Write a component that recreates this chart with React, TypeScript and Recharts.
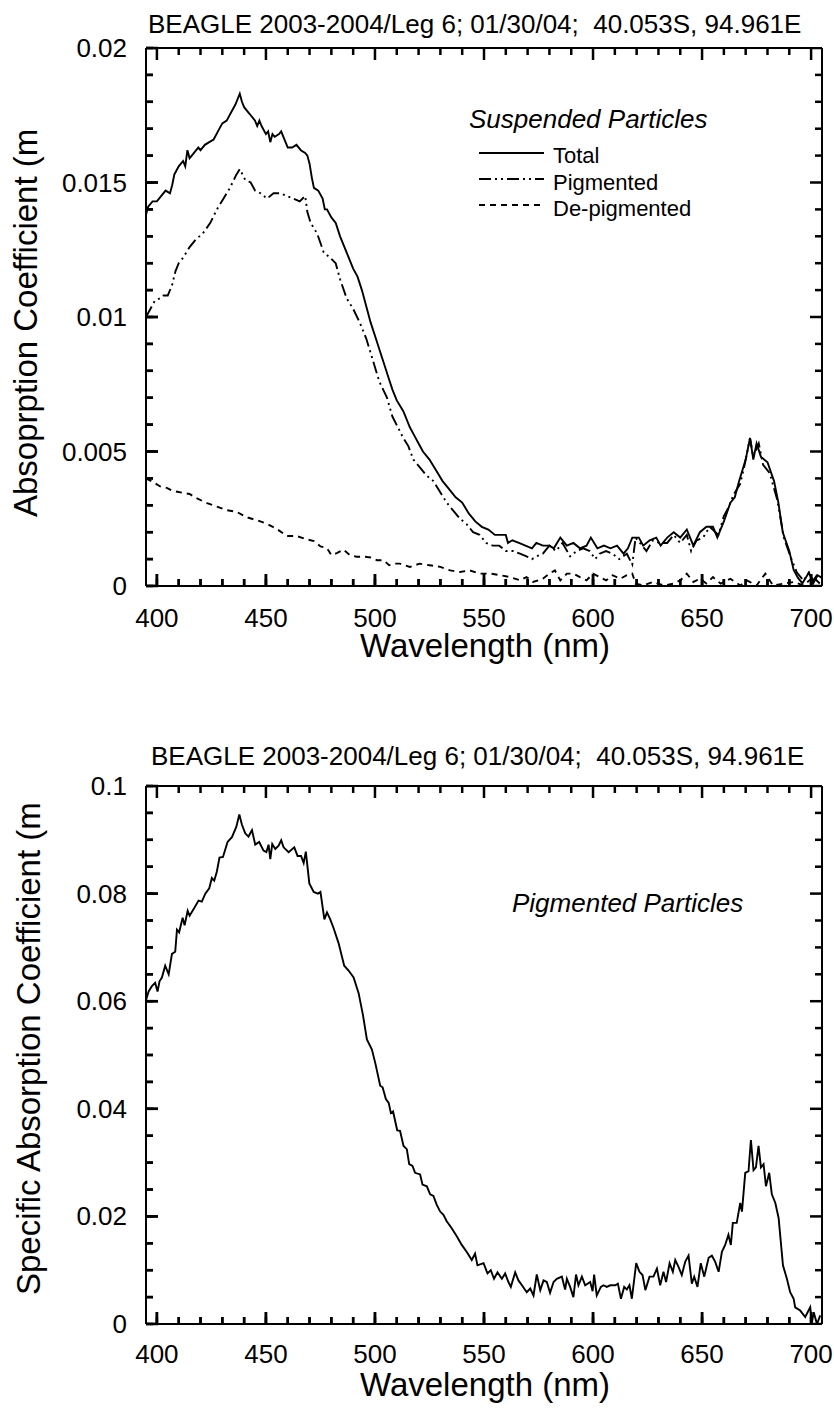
import { ComposedChart, Line, Scatter, XAxis, YAxis, ReferenceLine } from 'recharts'

const FONT = '"Liberation Sans", Arial, Helvetica, sans-serif'
const INK = '#000'

// ---- axis ticks ----
const wavelengthTicks = [
  400, 410, 420, 430, 440, 450, 460, 470, 480, 490, 500, 510, 520, 530, 540, 550, 560, 570, 580,
  590, 600, 610, 620, 630, 640, 650, 660, 670, 680, 690, 700,
]
const suspendedTicks = [
  0, 0.001, 0.002, 0.003, 0.004, 0.005, 0.006, 0.007, 0.008, 0.009, 0.01, 0.011, 0.012, 0.013,
  0.014, 0.015, 0.016, 0.017, 0.018, 0.019, 0.02,
]
const specificTicks = [
  0, 0.005, 0.01, 0.015, 0.02, 0.025, 0.03, 0.035, 0.04, 0.045, 0.05, 0.055, 0.06, 0.065, 0.07,
  0.075, 0.08, 0.085, 0.09, 0.095, 0.1,
]
const wavelengthDomain: [number, number] = [395, 705]
const suspendedDomain: [number, number] = [0, 0.02]
const specificDomain: [number, number] = [0, 0.1]

// ---- labels ----
const topTitle = 'BEAGLE 2003-2004/Leg 6; 01/30/04;  40.053S, 94.961E'
const bottomTitle = 'BEAGLE 2003-2004/Leg 6; 01/30/04;  40.053S, 94.961E'
const xTitle = 'Wavelength (nm)'
const topYTitle = 'Absoprption Coefficient (m'
const bottomYTitle = 'Specific Absorption Coefficient (m'
const topLegendTitle = 'Suspended Particles'
const topLegendNames = ['Total', 'Pigmented', 'De-pigmented']
const bottomLegendTitle = 'Pigmented Particles'

// ---- total particulate absorption (m^-1) ----
const totalNm = [
  395, 396, 398, 400, 402, 404, 406, 407, 408, 410, 412, 413, 414, 415, 416, 418, 419, 420, 422,
  424, 426, 428, 430, 432, 434, 436, 438, 439, 440, 442, 443, 444, 445, 446, 447, 448, 450, 451,
  452, 453, 454, 456, 457, 458, 460, 462, 464, 466, 468, 469, 470, 471, 472, 474, 476, 477, 478,
  480, 482, 484, 486, 488, 490, 492, 494, 496, 498, 500, 502, 504, 506, 508, 510, 513, 516, 518,
  520, 522, 525, 528, 531, 534, 537, 540, 543, 546, 549, 552, 555, 558, 560, 561, 563, 566, 569,
  572, 574, 577, 580, 582, 585, 588, 591, 594, 597, 599, 602, 605, 608, 611, 614, 616, 618, 621,
  623, 626, 629, 631, 634, 637, 640, 643, 646, 649, 652, 655, 657, 660, 663, 665, 667, 670, 672,
  673.5, 675, 677, 680, 683, 685, 687, 690, 692, 694, 696, 699, 701, 703, 705,
]
const totalAbs = [
  0.0138, 0.0141, 0.0143, 0.0143, 0.0145, 0.0147, 0.0146, 0.0149, 0.0153, 0.0156, 0.0158, 0.0156,
  0.0162, 0.0159, 0.016, 0.0162, 0.0163, 0.0162, 0.0164, 0.0165, 0.0166, 0.0169, 0.0172, 0.0173,
  0.0176, 0.0179, 0.0183, 0.018, 0.0178, 0.0176, 0.0175, 0.0174, 0.0173, 0.0171, 0.0173, 0.0171,
  0.0168, 0.0169, 0.0165, 0.0168, 0.0167, 0.0168, 0.0169, 0.0167, 0.0163, 0.0163, 0.0164, 0.0162,
  0.0161, 0.016, 0.0157, 0.0152, 0.0148, 0.0147, 0.0144, 0.014, 0.014, 0.0137, 0.0135, 0.013,
  0.0126, 0.0122, 0.0118, 0.0115, 0.011, 0.0104, 0.0098, 0.0093, 0.0088, 0.0083, 0.0078, 0.0073,
  0.0069, 0.0065, 0.0059, 0.0056, 0.0053, 0.005, 0.0047, 0.0043, 0.0039, 0.0036, 0.0033, 0.0031,
  0.0027, 0.0024, 0.0022, 0.0021, 0.0019, 0.0019, 0.0019, 0.0016, 0.0017, 0.0016, 0.0015, 0.0014,
  0.0016, 0.0015, 0.0015, 0.0014, 0.0018, 0.0015, 0.0016, 0.0014, 0.0015, 0.0018, 0.0014, 0.0015,
  0.0014, 0.0015, 0.0012, 0.0014, 0.0018, 0.0018, 0.0015, 0.0017, 0.0018, 0.0015, 0.0018, 0.002,
  0.0018, 0.0021, 0.0015, 0.002, 0.0022, 0.0022, 0.0018, 0.0024, 0.0031, 0.0033, 0.0039, 0.0047,
  0.0055, 0.0047, 0.0053, 0.0048, 0.0046, 0.0039, 0.0031, 0.002, 0.0013, 0.0006, 0.0003, 0.0001,
  0.0005, 0.0001, 0.0004, 0.0003,
]

// ---- pigmented (phytoplankton) absorption ----
const pigNm = [
  395, 397, 399, 401.5, 403, 405, 407, 408.5, 410, 412, 415, 418, 421, 424.5, 427.5, 430.5, 433.5,
  436.5, 438, 440.5, 443, 445, 447.5, 450.5, 453.5, 456.5, 459.5, 462.5, 465.5, 468, 469, 470.5,
  473.5, 476.5, 479.5, 482, 484, 487, 490, 493, 496, 499, 502, 505.5, 508, 510.5, 513, 515.3,
  517.6, 520.7, 523.7, 526.8, 529.8, 532.9, 535.9, 539, 542, 545, 548, 551, 554, 557, 560, 563.5,
  566.5, 569.5, 572, 574, 577, 580, 583, 586, 589.5, 592.5, 595.5, 598.5, 601, 603, 606, 609, 612,
  615.5, 618, 619.5, 621.5, 624.5, 627.5, 630.5, 634, 637, 640, 643, 645, 647.5, 650.5, 653.5,
  657.5, 660, 662, 664.5, 667.5, 669.5, 672, 673.5, 676, 678, 681, 684.5, 687.5, 690.5, 693.5,
  696.5, 699, 701, 703.5,
]
const pigAbs = [
  0.01, 0.0103, 0.0106, 0.0107, 0.0108, 0.0108, 0.0112, 0.0117, 0.012, 0.0122, 0.0126, 0.0129,
  0.0131, 0.0135, 0.014, 0.0144, 0.0148, 0.0153, 0.0155, 0.0151, 0.015, 0.0147, 0.0146, 0.0144,
  0.0146, 0.0146, 0.0145, 0.0144, 0.0143, 0.0145, 0.0139, 0.0135, 0.0131, 0.0124, 0.0122, 0.012,
  0.0114, 0.0107, 0.0103, 0.0098, 0.0092, 0.0084, 0.0076, 0.007, 0.0063, 0.0059, 0.0055, 0.0052,
  0.0047, 0.0044, 0.0041, 0.0039, 0.0035, 0.0031, 0.0028, 0.0025, 0.0023, 0.002, 0.0019, 0.0016,
  0.0015, 0.0015, 0.0013, 0.0013, 0.0012, 0.0011, 0.001, 0.0011, 0.0012, 0.0015, 0.0013, 0.0016,
  0.0011, 0.0013, 0.0014, 0.0013, 0.001, 0.0012, 0.0013, 0.0012, 0.001, 0.0012, 0.0008, 0.0018,
  0.0016, 0.0013, 0.0017, 0.0016, 0.0016, 0.0019, 0.0016, 0.0019, 0.0013, 0.0017, 0.0018, 0.0022,
  0.0019, 0.0026, 0.0029, 0.0034, 0.0038, 0.0045, 0.0055, 0.0048, 0.0053, 0.0045, 0.0042, 0.0032,
  0.0018, 0.0011, 0.0005, 0.0002, 0.0005, 0.0002, 0.0005,
]

// ---- de-pigmented (detrital) absorption ----
const detNm = [
  395, 398.5, 401.5, 404.5, 407.5, 412, 415, 418, 423, 427.5, 432, 436.5, 441, 446, 450.5, 455,
  459.5, 464, 469, 472, 475, 478, 480, 482.5, 485.5, 488.5, 491.5, 495, 498, 501, 504, 506.5, 509,
  511.5, 516, 520.5, 525, 530, 534.5, 539, 543.5, 548, 553, 557.5, 562, 566.5, 569.5, 572.5, 577,
  580, 582.5, 585, 588, 591, 594, 597, 600, 603, 606, 609, 612.5, 615.5, 618, 619.5, 623, 627.5,
  632.5, 637, 640, 643, 646, 649, 652, 655, 658.5, 663, 667.5, 670.5, 675, 679, 682.5, 687.5, 692,
  696.5, 701, 704,
]
const detAbs = [
  0.004, 0.00385, 0.0037, 0.00365, 0.00353, 0.00346, 0.00342, 0.00327, 0.00308, 0.00295, 0.00282,
  0.00276, 0.00256, 0.00244, 0.00231, 0.00212, 0.00186, 0.00186, 0.00173, 0.00167, 0.00147,
  0.00141, 0.00115, 0.00122, 0.00135, 0.00115, 0.00109, 0.00109, 0.00106, 0.00096, 0.00096,
  0.00077, 0.00083, 0.00083, 0.00071, 0.00083, 0.00077, 0.00071, 0.00058, 0.00052, 0.00058,
  0.00046, 0.00046, 0.0004, 0.00033, 0.00021, 0.00033, 0.00015, 0.00027, 0.00046, 0.00058,
  0.00021, 0.00046, 0.00046, 0.00033, 0.00021, 0.00046, 0.00033, 0.00021, 0.0004, 0.00027, 0.0004,
  0.00046, 0.00009, 0.00002, 0.00015, 0.00002, 0.00009, 0.00021, 0.00046, 0.00015, 0.00027,
  0.00009, 0.00033, 0.00009, 0.00027, 0.00002, 0.00021, 0.00002, 0.00046, 0.00002, 0.00009,
  0.00015, 0.00002, 0.00033, 0.00009,
]

// ---- chlorophyll-specific absorption of pigmented particles ----
const specNm = [
  395, 396.2, 397.7, 399.2, 400.3, 401.2, 402.3, 403.8, 405.4, 406.9, 408.4, 409.2, 410.2, 411.8,
  412.7, 414.1, 415, 416.8, 419.1, 420.6, 422.2, 424, 425.2, 426.3, 427.5, 428.7, 430.3, 432.4,
  434.4, 436.4, 437.8, 439, 440.5, 442, 443.6, 445.1, 446.9, 448.9, 450.2, 451.2, 452, 452.9,
  454.3, 455.8, 457, 458.1, 460.4, 463, 464.5, 466.1, 467.3, 468.3, 469.9, 471.9, 473.9, 475,
  476.8, 478, 479.5, 481, 483.3, 485.9, 487.9, 490.2, 492.5, 494.5, 496.3, 498.6, 500.2, 502.4,
  503.5, 505, 506.3, 507.3, 508.3, 510.2, 511.5, 513.1, 514.6, 515.7, 517.2, 518.4, 520.7, 521.8,
  523.8, 525.3, 526.8, 528.3, 529.9, 531.4, 532.9, 535.2, 537.5, 539.8, 542.1, 544.4, 545.9, 547,
  549.8, 551.6, 553.1, 554.6, 556.2, 558.2, 559.7, 561.2, 562.3, 564.3, 565.8, 567.4, 569.6, 571.2,
  572.7, 574.2, 575.8, 577.3, 578.8, 580.3, 581.9, 583.4, 585.7, 587.2, 588, 589.5, 591, 592.2,
  593.3, 594.9, 596.4, 598.7, 599.8, 600.5, 601.7, 603.6, 604.8, 606.3, 607.9, 610.2, 611.4, 612.8,
  614.3, 615.5, 616.7, 617.8, 619.8, 621.3, 622.7, 624, 625.9, 627.7, 629.3, 630.8, 632.3, 633.5,
  635.1, 636.6, 637.7, 639.2, 640.7, 642.3, 643.8, 645.3, 646.4, 647.9, 649.4, 651, 653, 654.5,
  656, 657.6, 659.1, 660.6, 662.1, 663.2, 664.1, 665.9, 667.5, 668.3, 669.8, 671.3, 672.4, 673.6,
  674.7, 675.9, 677, 678.2, 679.3, 680.8, 682, 683.6, 685.1, 687.1, 688.9, 690.4, 692, 692.7, 695,
  697.3, 699.6, 700.4, 701.2, 702.7, 704.2,
]
const specAbs = [
  0.0602, 0.0618, 0.0628, 0.0634, 0.0618, 0.0637, 0.0644, 0.0666, 0.065, 0.0688, 0.0692, 0.0733,
  0.0728, 0.0755, 0.0741, 0.0768, 0.0759, 0.0771, 0.0787, 0.0785, 0.08, 0.081, 0.0829, 0.0824,
  0.0841, 0.0867, 0.0868, 0.0896, 0.0905, 0.0924, 0.0947, 0.0928, 0.0912, 0.0906, 0.0918, 0.0891,
  0.0896, 0.088, 0.0877, 0.0891, 0.0864, 0.0892, 0.0883, 0.0889, 0.0899, 0.0886, 0.0877, 0.0886,
  0.087, 0.087, 0.0857, 0.0878, 0.0819, 0.0803, 0.08, 0.0803, 0.0752, 0.0765, 0.0752, 0.0736,
  0.0708, 0.0666, 0.0657, 0.0644, 0.0615, 0.0574, 0.0529, 0.051, 0.0484, 0.0443, 0.044, 0.0418,
  0.0411, 0.0392, 0.0395, 0.036, 0.0359, 0.0331, 0.0325, 0.0297, 0.0294, 0.0281, 0.0278, 0.0259,
  0.0256, 0.0241, 0.0238, 0.0222, 0.0209, 0.0203, 0.0191, 0.0178, 0.0163, 0.0147, 0.0134, 0.0119,
  0.0131, 0.0109, 0.0113, 0.0094, 0.01, 0.0084, 0.0096, 0.0084, 0.0094, 0.0078, 0.0069, 0.0096,
  0.0081, 0.0072, 0.0059, 0.0066, 0.0053, 0.0092, 0.0063, 0.0081, 0.0078, 0.0058, 0.0078, 0.0084,
  0.0088, 0.0064, 0.0084, 0.0069, 0.005, 0.0092, 0.0072, 0.0088, 0.0072, 0.0078, 0.0061, 0.0092,
  0.0053, 0.0069, 0.0072, 0.0069, 0.0072, 0.0072, 0.0075, 0.0047, 0.0069, 0.0064, 0.0072, 0.0047,
  0.0113, 0.0097, 0.0091, 0.0063, 0.0088, 0.0088, 0.0103, 0.0072, 0.0097, 0.0078, 0.0113, 0.0097,
  0.0119, 0.0106, 0.0091, 0.0116, 0.0127, 0.0075, 0.0088, 0.0069, 0.0113, 0.0088, 0.0123, 0.0127,
  0.0116, 0.0097, 0.0134, 0.0147, 0.0166, 0.0147, 0.0188, 0.0188, 0.0225, 0.0209, 0.0281, 0.0284,
  0.0342, 0.0286, 0.0291, 0.0331, 0.0291, 0.0297, 0.0256, 0.0281, 0.0241, 0.0225, 0.0197, 0.0109,
  0.0084, 0.0059, 0.0047, 0.0031, 0.0025, 0.0013, 0.0031, 0.0003, 0.0022, 0, 0.0016,
]

const toPoints = (xs: number[], ys: number[]) => xs.map((nm, i) => ({ nm, v: ys[i] }))

const totalData = toPoints(totalNm, totalAbs)
const pigData = toPoints(pigNm, pigAbs)
const detData = toPoints(detNm, detAbs)
const specData = toPoints(specNm, specAbs)

const lineDashes = ['', '12 4 2 4 2 4', '6 5']

// ---- inward tick marks: points on the frame, drawn through the chart scales ----
const MAJOR = 12
const MINOR = 7
const TICK_W = 2.5
const LINE_W = 1.9

const bottomMarks = (yDomain: [number, number]) => wavelengthTicks.map((nm) => ({ nm, v: yDomain[0] }))
const topMarks = (yDomain: [number, number]) => wavelengthTicks.map((nm) => ({ nm, v: yDomain[1] }))
const leftMarks = (yTicks: number[]) => yTicks.map((v) => ({ nm: wavelengthDomain[0], v }))
const rightMarks = (yTicks: number[]) => yTicks.map((v) => ({ nm: wavelengthDomain[1], v }))

const xMajor = (nm: number) => nm % 50 === 0

const vMark = (dir: number) => (p: any) => {
  const len = xMajor(p.payload.nm) ? MAJOR : MINOR
  return (
    <g>
      <path d={`M${p.cx},${p.cy}V${p.cy + dir * len}`} stroke={INK} strokeWidth={TICK_W} />
    </g>
  )
}

const hMark = (dir: number, isMajorY: (v: number) => boolean) => (p: any) => {
  const len = isMajorY(p.payload.v) ? MAJOR : MINOR
  return (
    <g>
      <path d={`M${p.cx},${p.cy}H${p.cx + dir * len}`} stroke={INK} strokeWidth={TICK_W} />
    </g>
  )
}

// tick labels, plus the long stroke of each labelled tick
const bottomLabel = (labelGap: number) => (p: any) => {
  const v = p.payload.value
  if (!xMajor(v)) return <g />
  return (
    <g>
      <path d={`M${p.x},${p.y}V${p.y - MAJOR}`} stroke={INK} strokeWidth={TICK_W} />
      <text x={p.x} y={p.y + labelGap} textAnchor="middle" fontSize={26} fontFamily={FONT} fill={INK}>
        {v}
      </text>
    </g>
  )
}

const leftLabel = (isMajor: (v: number) => boolean) => (p: any) => {
  const v = p.payload.value
  if (!isMajor(v)) return <g />
  return (
    <g>
      <path d={`M${p.x},${p.y}H${p.x + MAJOR}`} stroke={INK} strokeWidth={TICK_W} />
      <text x={p.x - 19} y={p.y + 9} textAnchor="end" fontSize={26} fontFamily={FONT} fill={INK}>
        {String(v)}
      </text>
    </g>
  )
}

const suspendedMajor = (v: number) => Math.round(v * 1000) % 5 === 0
const specificMajor = (v: number) => Math.round(v * 1000) % 20 === 0

const axisLine = { stroke: INK, strokeWidth: 2 }
const tickLine = { stroke: INK, strokeWidth: TICK_W }

function SuspendedLegend() {
  return (
    <g>
      <text x={469} y={128} fontSize={26} fontStyle="italic" fontFamily={FONT} fill={INK}>
        {topLegendTitle}
      </text>
      {topLegendNames.map((name, i) => (
        <g key={name}>
          <line
            x1={479}
            x2={544}
            y1={153 + i * 26}
            y2={153 + i * 26}
            stroke={INK}
            strokeWidth={LINE_W}
            strokeDasharray={lineDashes[i] || undefined}
          />
          <text x={553} y={163 + i * 26.5} fontSize={22} fontFamily={FONT} fill={INK}>
            {name}
          </text>
        </g>
      ))}
    </g>
  )
}

function PigmentedLegend() {
  return (
    <text x={512} y={212} fontSize={26} fontStyle="italic" fontFamily={FONT} fill={INK}>
      {bottomLegendTitle}
    </text>
  )
}

type PanelProps = {
  id: string
  height: number
  marginTop: number
  xAxisHeight: number
  labelGap: number
  xTitleY: number
  title: string
  titleX: number
  titleY: number
  yTitle: string
  yTitleX: number
  yTitleY: number
  yTicks: number[]
  yDomain: [number, number]
  isMajorY: (v: number) => boolean
  legend: React.ReactNode
  children: React.ReactNode
}

function SpectrumPanel(props: PanelProps) {
  const { yTicks, yDomain, isMajorY } = props
  return (
    <ComposedChart
      id={props.id}
      width={834}
      height={props.height}
      margin={{ top: props.marginTop, right: 12, bottom: 0, left: 0 }}
    >
      <XAxis
        xAxisId="b"
        type="number"
        dataKey="nm"
        domain={wavelengthDomain}
        allowDataOverflow
        ticks={wavelengthTicks}
        interval={0}
        height={props.xAxisHeight}
        tickSize={-MINOR}
        tickMargin={MINOR}
        tickLine={tickLine}
        axisLine={axisLine}
        tick={bottomLabel(props.labelGap)}
        label={{
          content: () => (
            <g>
              <text x={485} y={props.xTitleY} textAnchor="middle" fontSize={33} fontFamily={FONT} fill={INK}>
                {xTitle}
              </text>
              <text
                x={props.titleX}
                y={props.titleY}
                fontSize={26}
                fontFamily={FONT}
                fill={INK}
                style={{ whiteSpace: 'pre' }}
              >
                {props.title}
              </text>
            </g>
          ),
        }}
      />
      <YAxis
        yAxisId="l"
        type="number"
        dataKey="v"
        domain={yDomain}
        allowDataOverflow
        ticks={yTicks}
        interval={0}
        width={146}
        tickSize={-MINOR}
        tickMargin={MINOR}
        tickLine={tickLine}
        axisLine={axisLine}
        tick={leftLabel(isMajorY)}
        label={{
          content: () => (
            <g>
              <text
                x={props.yTitleX}
                y={props.yTitleY}
                transform={`rotate(-90, ${props.yTitleX}, ${props.yTitleY})`}
                fontSize={33}
                fontFamily={FONT}
                fill={INK}
              >
                {props.yTitle}
              </text>
              {props.legend}
            </g>
          ),
        }}
      />
      <ReferenceLine xAxisId="b" yAxisId="l" y={yDomain[1]} stroke={INK} strokeWidth={2} ifOverflow="visible" />
      <ReferenceLine
        xAxisId="b"
        yAxisId="l"
        x={wavelengthDomain[1]}
        stroke={INK}
        strokeWidth={2}
        ifOverflow="visible"
      />
      <Scatter xAxisId="b" yAxisId="l" data={bottomMarks(yDomain)} dataKey="v" shape={vMark(-1)} isAnimationActive={false} />
      <Scatter xAxisId="b" yAxisId="l" data={topMarks(yDomain)} dataKey="v" shape={vMark(1)} isAnimationActive={false} />
      <Scatter xAxisId="b" yAxisId="l" data={leftMarks(yTicks)} dataKey="v" shape={hMark(1, isMajorY)} isAnimationActive={false} />
      <Scatter xAxisId="b" yAxisId="l" data={rightMarks(yTicks)} dataKey="v" shape={hMark(-1, isMajorY)} isAnimationActive={false} />
      {props.children}
    </ComposedChart>
  )
}

function SuspendedChart() {
  return (
    <SpectrumPanel
      id="suspended"
      height={700}
      marginTop={48}
      xAxisHeight={114}
      labelGap={41}
      xTitleY={657}
      title={topTitle}
      titleX={148}
      titleY={33}
      yTitle={topYTitle}
      yTitleX={37}
      yTitleY={517}
      yTicks={suspendedTicks}
      yDomain={suspendedDomain}
      isMajorY={suspendedMajor}
      legend={<SuspendedLegend />}
    >
      <Line
        xAxisId="b"
        yAxisId="l"
        data={totalData}
        dataKey="v"
        name={topLegendNames[0]}
        type="linear"
        stroke={INK}
        strokeWidth={LINE_W}
        dot={false}
        isAnimationActive={false}
      />
      <Line
        xAxisId="b"
        yAxisId="l"
        data={pigData}
        dataKey="v"
        name={topLegendNames[1]}
        type="linear"
        stroke={INK}
        strokeWidth={LINE_W}
        strokeDasharray={lineDashes[1]}
        dot={false}
        isAnimationActive={false}
      />
      <Line
        xAxisId="b"
        yAxisId="l"
        data={detData}
        dataKey="v"
        name={topLegendNames[2]}
        type="linear"
        stroke={INK}
        strokeWidth={LINE_W}
        strokeDasharray={lineDashes[2]}
        dot={false}
        isAnimationActive={false}
      />
    </SpectrumPanel>
  )
}

function SpecificChart() {
  return (
    <SpectrumPanel
      id="specific"
      height={709}
      marginTop={86}
      xAxisHeight={85}
      labelGap={39}
      xTitleY={696}
      title={bottomTitle}
      titleX={151}
      titleY={65}
      yTitle={bottomYTitle}
      yTitleX={40}
      yTitleY={595}
      yTicks={specificTicks}
      yDomain={specificDomain}
      isMajorY={specificMajor}
      legend={<PigmentedLegend />}
    >
      <Line
        xAxisId="b"
        yAxisId="l"
        data={specData}
        dataKey="v"
        name={bottomLegendTitle}
        type="linear"
        stroke={INK}
        strokeWidth={LINE_W}
        dot={false}
        isAnimationActive={false}
      />
    </SpectrumPanel>
  )
}

export default function App() {
  return (
    <div style={{ width: 834, height: 1409, background: '#fff' }}>
      <style>{'body{margin:0;background:#fff}'}</style>
      <SuspendedChart />
      <SpecificChart />
    </div>
  )
}
